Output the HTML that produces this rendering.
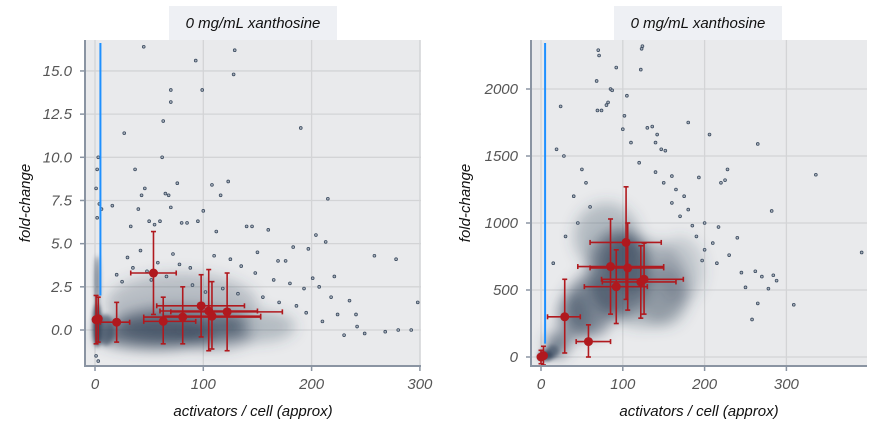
<!DOCTYPE html>
<html><head><meta charset="utf-8"><style>
body{margin:0;background:#fff;}
svg text{font-family:"Liberation Sans",sans-serif;font-style:italic;}
</style></head><body>
<svg id="c" width="885" height="435" xmlns="http://www.w3.org/2000/svg">
<defs><filter id="blur" x="-50%" y="-50%" width="200%" height="200%"><feGaussianBlur stdDeviation="7"/></filter>
<filter id="blur2" x="-50%" y="-50%" width="200%" height="200%"><feGaussianBlur stdDeviation="2"/></filter></defs>
</svg>
<script>
// ---- data: left panel ----
const leftXTicks=[0,100,200,300];
const leftYTicks=[0,2.5,5,7.5,10,12.5,15];
const leftYLabels=["0.0","2.5","5.0","7.5","10.0","12.5","15.0"];
const leftMeansX=[1,3,20,54,63,81,98,105,108,122];
const leftMeansY=[0.6,0.65,0.45,3.3,0.5,0.75,1.4,1.1,0.8,1.05];
const leftXLo=[0,1,5,33,45,45,57,60,63,70];
const leftXHi=[3,5,32,75,93,153,138,150,153,173];
const leftYLo=[-0.8,-0.7,-0.7,0.9,-0.8,-0.8,-0.4,-1.2,-1.1,-1.2];
const leftYHi=[2.0,1.9,1.6,5.7,1.9,2.5,3.2,3.5,2.8,3.3];
const leftOutX=[45,93,129,128,99,70,70,63,62,27,37,43,46,76,108,116,123,65,68,70,100,112,16,33,40,50,55,60,80,85,95,140,160,190,215,204,213,258,278,280,298,197,221,207,218,235,241,249,268,292,176,183,193,201,224,242,169,150,145,3,2,1,4,6,2,1,3,30,42,58,72,88,110,125,135,148,165,180,20,25,35,48,52,66,78,90,102,118,132,155,170,186,195,210,230];
const leftOutY=[16.4,15.6,16.2,14.8,13.9,13.9,13.2,12.1,10.0,11.4,9.3,7.8,8.2,8.5,8.4,7.8,8.6,7.9,7.8,7.1,6.9,5.7,7.2,6.0,7.0,6.3,6.1,6.3,6.2,6.2,6.3,6.0,5.8,11.7,7.6,5.5,5.1,4.3,4.1,0.0,1.6,4.7,3.1,2.5,1.9,1.7,0.9,-0.2,-0.1,-0.0,4.0,4.8,2.4,3.0,0.9,0.2,4.0,4.5,6.0,10.0,9.3,8.2,7.3,7.0,6.5,-1.5,-1.8,4.2,4.6,3.9,4.4,3.6,4.3,4.1,3.7,3.3,2.9,2.7,3.2,2.8,3.6,3.4,2.9,3.1,3.8,2.6,2.2,2.4,2.1,1.9,1.6,1.4,1.0,0.5,-0.3];
const leftBlobX=[55,80,80,110,150];
const leftBlobY=[-0.2,0.3,1.5,-0.3,0.2];
const leftBlobRX=[55,60,70,35,35];
const leftBlobRY=[0.9,1.1,1.8,0.8,0.9];
const leftBlobA=[0.75,0.55,0.28,0.45,0.3];
const leftCoreX=[2,2,10];
const leftCoreY=[0.3,2.8,0];
const leftCoreRX=[4,2.5,8];
const leftCoreRY=[1.3,1.5,0.9];
const leftCoreA=[0.95,0.6,0.6];
// ---- data: right panel ----
const rightXTicks=[0,100,200,300];
const rightYTicks=[0,500,1000,1500,2000];
const rightMeansX=[0,3,29,58,85,92,104,106,122,126];
const rightMeansY=[0,10,300,115,675,525,855,665,560,580];
const rightXLo=[-2,0,8,43,45,53,60,60,75,74];
const rightXHi=[2,6,48,85,150,130,147,150,165,174];
const rightYLo=[-50,-60,30,0,320,250,430,350,290,320];
const rightYHi=[50,80,580,240,1030,800,1270,1000,830,850];
const rightOutX=[70,71,92,122,123,124,68,85,87,105,24,19,28,69,74,80,82,100,102,110,130,136,142,147,152,160,180,193,206,265,336,282,284,288,309,245,262,270,278,258,265,392,220,225,228,217,200,197,150,140,60,50,40,170,185,190,210,215,230,240,250,160,175,30,15,45,55,120,140,165,180,200];
const rightOutY=[2290,2250,2160,2145,2300,2320,2060,2000,1990,1950,1870,1550,1500,1840,1840,1880,1900,1700,1800,1600,1710,1720,1660,1550,1540,1350,1750,1340,1660,1590,1360,1090,610,570,390,630,640,600,510,280,400,780,1300,1320,1400,970,800,720,1300,1600,1120,1400,1200,1050,980,900,850,700,760,890,520,1150,1200,900,700,1000,1300,1450,1380,1250,1100,1000];
const rightBlobX=[95,60,105,20,125,40,80,150,170];
const rightBlobY=[620,380,700,90,550,300,900,450,650];
const rightBlobRX=[38,30,28,14,55,20,40,30,30];
const rightBlobRY=[330,230,230,90,330,180,250,220,250];
const rightBlobA=[0.6,0.6,0.5,0.7,0.3,0.5,0.3,0.3,0.2];
const rightCoreX=[6,14];
const rightCoreY=[10,40];
const rightCoreRX=[9,8];
const rightCoreRY=[40,50];
const rightCoreA=[0.9,0.6];

const NS="http://www.w3.org/2000/svg";
const svg=document.getElementById('c');
function mk(t,a,p){const e=document.createElementNS(NS,t);for(const k in a)e.setAttribute(k,a[k]);(p||svg).appendChild(e);return e;}

function panel(o){
  const g=mk('g',{});
  
  
  const sx=v=>o.x0+(v-o.dx0)*o.kx, sy=v=>o.y0-(v-o.dy0)*o.ky;
  const bg=mk('rect',{x:o.L,y:o.T,width:o.R-o.L,height:o.B-o.T,fill:'#e9eaec'},g);
  
  o.xt.forEach(v=>mk('line',{x1:sx(v),x2:sx(v),y1:o.T,y2:o.B,stroke:'#d3d4d6','stroke-width':1.3},g));
  o.yt.forEach(v=>mk('line',{x1:o.L,x2:o.R,y1:sy(v),y2:sy(v),stroke:'#d3d4d6','stroke-width':1.3},g));
  const cl='clip'+o.name;const cp=mk('clipPath',{id:cl},g);mk('rect',{x:o.L,y:o.T,width:o.R-o.L,height:o.B-o.T},cp);
  const d=mk('g',{'clip-path':'url(#'+cl+')'},g);
  const bgp=mk('g',{filter:'url(#blur)'},d);
  o.bx.forEach((v,i)=>{const e=mk('ellipse',{cx:sx(v),cy:sy(o.by[i]),rx:o.brx[i]*o.kx,ry:o.bry[i]*o.ky,fill:'#3c4c60','fill-opacity':o.ba[i]},bgp);
    });
  const cgp=mk('g',{filter:'url(#blur2)'},d);
  o.cx.forEach((v,i)=>{const e=mk('ellipse',{cx:sx(v),cy:sy(o.cy[i]),rx:o.crx[i]*o.kx,ry:o.cry[i]*o.ky,fill:'#34445a','fill-opacity':o.ca[i]},cgp);
    });
  o.ox.forEach((v,i)=>{const e=mk('circle',{cx:sx(v),cy:sy(o.oy[i]),r:1.4,fill:'#a8b0bb',stroke:'#3c4c60','stroke-width':0.8},d);
    });
  const bl=mk('line',{x1:sx(5),x2:sx(5),y1:o.T+3,y2:sy(o.blueEnd),stroke:'#1e90ff','stroke-width':2},d);
  
  o.mx.forEach((v,i)=>{
    const c='#b0191e',x=sx(v),y=sy(o.my[i]);
    const eg=mk('g',{stroke:c,'stroke-width':1.6},d);
    
    mk('line',{x1:sx(o.xl[i]),x2:sx(o.xh[i]),y1:y,y2:y},eg);
    mk('line',{x1:x,x2:x,y1:sy(o.yl[i]),y2:sy(o.yh[i])},eg);
    [o.xl[i],o.xh[i]].forEach(q=>mk('line',{x1:sx(q),x2:sx(q),y1:y-2.5,y2:y+2.5},eg));
    [o.yl[i],o.yh[i]].forEach(q=>mk('line',{x1:x-2.5,x2:x+2.5,y1:sy(q),y2:sy(q)},eg));
    const m=mk('circle',{cx:x,cy:y,r:4.5,fill:c},d);
    
  });
  mk('line',{x1:o.L,x2:o.L,y1:o.T,y2:o.B+1,stroke:'#8a94a2','stroke-width':2},g);
  mk('line',{x1:o.L,x2:o.R,y1:o.B,y2:o.B,stroke:'#8a94a2','stroke-width':2},g);
  o.xt.forEach(v=>{mk('line',{x1:sx(v),x2:sx(v),y1:o.B,y2:o.B+5,stroke:'#8a94a2','stroke-width':1.5},g);
    const t=mk('text',{x:sx(v),y:o.B+23,'text-anchor':'middle','font-size':15,fill:'#555'},g);t.textContent=v;
    });
  o.yt.forEach((v,i)=>{mk('line',{x1:o.L-5,x2:o.L,y1:sy(v),y2:sy(v),stroke:'#8a94a2','stroke-width':1.5},g);
    const t=mk('text',{x:o.L-13,y:sy(v)+5,'text-anchor':'end','font-size':15,fill:'#555'},g);t.textContent=o.yl2[i];
    });
  const xt=mk('text',{x:(o.L+o.R)/2,y:416,'text-anchor':'middle','font-size':15,fill:'#111'},g);
  xt.textContent='activators / cell (approx)';
  const yt=mk('text',{x:0,y:0,'text-anchor':'middle','font-size':15,fill:'#111',transform:`translate(${o.ytx},${(o.T+o.B)/2}) rotate(-90)`},g);
  yt.textContent='fold-change';
  const tb=mk('rect',{x:o.tbx,y:6,width:168,height:34,fill:'#eef0f4'},g);
  
  const tt=mk('text',{x:o.tbx+84,y:28,'text-anchor':'middle','font-size':15,fill:'#111'},g);
  tt.textContent='0 mg/mL xanthosine';
}
panel({name:'left-panel',L:85,R:421,T:40,B:366,x0:95,dx0:0,kx:1.083,y0:330,dy0:0,ky:17.27,
  xt:leftXTicks,yt:leftYTicks,yl2:leftYLabels,mx:leftMeansX,my:leftMeansY,xl:leftXLo,xh:leftXHi,yl:leftYLo,yh:leftYHi,
  ox:leftOutX,oy:leftOutY,bx:leftBlobX,by:leftBlobY,brx:leftBlobRX,bry:leftBlobRY,ba:leftBlobA,
  cx:leftCoreX,cy:leftCoreY,crx:leftCoreRX,cry:leftCoreRY,ca:leftCoreA,blueEnd:2,ytx:30,tbx:169});
panel({name:'right-panel',L:531,R:867,T:40,B:366,x0:541,dx0:0,kx:0.818,y0:357,dy0:0,ky:0.134,
  xt:rightXTicks,yt:rightYTicks,yl2:rightYTicks.map(String),mx:rightMeansX,my:rightMeansY,xl:rightXLo,xh:rightXHi,yl:rightYLo,yh:rightYHi,
  ox:rightOutX,oy:rightOutY,bx:rightBlobX,by:rightBlobY,brx:rightBlobRX,bry:rightBlobRY,ba:rightBlobA,
  cx:rightCoreX,cy:rightCoreY,crx:rightCoreRX,cry:rightCoreRY,ca:rightCoreA,blueEnd:100,ytx:470,tbx:614});
</script>
</body></html>
